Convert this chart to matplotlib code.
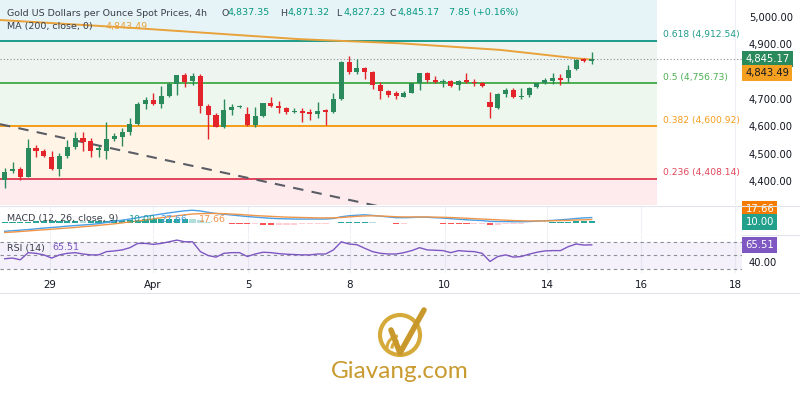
import matplotlib
matplotlib.use("Agg")
import matplotlib.pyplot as plt
from matplotlib.patches import Circle, Arc
import numpy as np

# ---- data (4h bars) ----
opens = [4404, 4437, 4444, 4416, 4522, 4511, 4489, 4444, 4493, 4523,
         4556, 4547, 4514, 4511, 4554, 4562, 4580, 4608, 4681, 4696,
         4681, 4712, 4754, 4786, 4766, 4784, 4675, 4641, 4599, 4660,
         4672, 4645, 4605, 4638, 4684, 4675, 4666, 4653, 4657, 4653,
         4645, 4659, 4653, 4699, 4834, 4797, 4812, 4797, 4750, 4730,
         4720, 4708, 4723, 4757, 4793, 4769, 4762, 4765, 4751, 4769,
         4763, 4759, 4690, 4668, 4717, 4732, 4706, 4714, 4742, 4757,
         4766, 4775, 4775, 4808, 4845, 4837.35]
highs = [4448, 4471, 4450, 4553, 4532, 4516, 4511, 4501, 4550, 4580,
         4580, 4556, 4532, 4617, 4577, 4593, 4629, 4690, 4708, 4723,
         4747, 4763, 4788, 4793, 4796, 4791, 4681, 4650, 4698, 4681,
         4678, 4672, 4672, 4686, 4706, 4693, 4672, 4666, 4666, 4662,
         4690, 4662, 4721, 4840, 4857, 4845, 4818, 4803, 4763, 4733,
         4730, 4730, 4759, 4796, 4799, 4784, 4771, 4769, 4769, 4794,
         4772, 4763, 4726, 4723, 4739, 4741, 4741, 4745, 4759, 4775,
         4794, 4791, 4824, 4845, 4848, 4871.32]
lows = [4375, 4428, 4406, 4414, 4487, 4489, 4440, 4418, 4486, 4519,
        4511, 4489, 4489, 4480, 4546, 4528, 4568, 4605, 4662, 4678,
        4666, 4708, 4714, 4745, 4751, 4650, 4553, 4596, 4593, 4641,
        4668, 4601, 4599, 4633, 4672, 4650, 4645, 4648, 4617, 4623,
        4629, 4605, 4650, 4696, 4791, 4791, 4772, 4735, 4698, 4706,
        4700, 4706, 4720, 4733, 4763, 4757, 4742, 4745, 4733, 4757,
        4747, 4745, 4629, 4662, 4708, 4702, 4699, 4708, 4739, 4754,
        4754, 4751, 4763, 4806, 4836, 4827.23]
closes = [4434, 4446, 4416, 4520, 4511, 4492, 4444, 4493, 4523, 4556,
          4542, 4511, 4520, 4554, 4564, 4580, 4607, 4681, 4696, 4681,
          4712, 4754, 4786, 4763, 4782, 4675, 4641, 4599, 4660, 4670,
          4675, 4605, 4638, 4684, 4675, 4666, 4653, 4657, 4650, 4645,
          4657, 4653, 4699, 4834, 4799, 4812, 4797, 4750, 4730, 4714,
          4712, 4723, 4757, 4793, 4769, 4761, 4765, 4747, 4767, 4761,
          4757, 4747, 4672, 4717, 4732, 4706, 4712, 4739, 4757, 4769,
          4777, 4769, 4806, 4842, 4837.32, 4845.17]

ma_bar = [-0.6, 16.4, 37.7, 50.5, 63.3, 73.1, 75]
ma_val = [4988, 4959, 4918, 4903, 4879, 4848, 4843.49]

trend_bar = [-0.6, 48]
trend_val = [4608, 4307]

fib_ratio = ["0.618", "0.5", "0.382", "0.236"]
fib_price = [4912.54, 4756.73, 4600.92, 4408.14]

macd_line = [-44, -41, -38, -35, -31, -27, -24, -21, -17, -14,
             -11, -8, -4, 2, 8, 14, 20, 27, 34, 40,
             46, 52, 58, 63, 66, 62, 55, 49, 45, 41,
             37, 33, 30, 27, 24, 22, 21, 20, 20, 20,
             20, 20, 23, 32, 37, 40, 42, 39, 35, 31,
             27, 27, 28, 30, 29, 27, 25, 22, 19, 16,
             14, 12, 8, 7, 7, 6, 6, 7, 9, 11,
             13, 16, 19, 23, 26, 27.66]
signal_line = [-50, -48, -45, -42, -39, -36, -33, -30, -27, -24,
               -20, -17, -13, -9, -5, 0, 5, 10, 15, 21,
               27, 32, 37, 42, 46, 48, 49, 49, 48, 46,
               44, 41, 38, 36, 34, 32, 30, 29, 28, 27,
               26, 26, 26, 28, 31, 34, 36, 37, 36, 34,
               32, 31, 31, 31, 31, 30, 29, 28, 26, 24,
               22, 20, 18, 16, 14, 12, 11, 10, 10, 10,
               11, 12, 13, 15, 16, 17.66]

rsi = [45, 46, 43.5, 54, 53, 50.7, 46, 50.7, 53, 54,
       52, 50.7, 50.7, 55.5, 56.5, 58, 61.3, 67.6, 67.6, 66.2,
       67.6, 70, 72.5, 70, 70, 55.5, 49.7, 47.4, 53, 54,
       54, 48.3, 52, 54.6, 54, 52.6, 51.7, 51.2, 50.7, 50.7,
       52, 52, 58, 70, 66.7, 65.7, 60.4, 55.5, 53, 52,
       52, 54, 57, 61.3, 58, 57.5, 57, 54, 57, 56,
       55.5, 53, 41, 48.3, 50.7, 47.4, 48.3, 51.7, 54.6, 56.5,
       57, 57, 62.8, 66.7, 65.2, 65.51]

date_pos = [5.8, 18.9, 31.1, 44.1, 56.2, 69.3, 81.3, 93.3]
date_lab = ["29", "Apr", "5", "8", "10", "14", "16", "18"]
price_ticks = [4400, 4500, 4600, 4700, 4900, 5000]

# ---- styling ----
UP, DOWN = "#2a8a5c", "#e3242b"
TXT = "#131722"
GOLD = "#c99a2e"
FIB_COL = ["#1f9c8a", "#4caf50", "#f59c1a", "#e0455a"]
ZONE_COL = ["#e6f4f7", "#eef5f1", "#eef7ee", "#fff4e6", "#fdebed"]

W, H = 800, 400
fig = plt.figure(figsize=(8, 4), dpi=100)
fig.patch.set_facecolor("white")
fx = lambda px: px / W
fy = lambda py: 1 - py / H

XL = (-0.6, 94.2)
fib_end = 83.3

ax = fig.add_axes([0, fy(205), fx(742), 205 / H], zorder=3)
axm = fig.add_axes([0, fy(234), fx(742), 28 / H], zorder=1)
axr = fig.add_axes([0, fy(273), fx(742), 38 / H], zorder=2)

idx = np.arange(len(closes))
o = np.array(opens); c = np.array(closes)
hi = np.array(highs); lo = np.array(lows)
cols = [UP if cc >= oo else DOWN for oo, cc in zip(o, c)]

for a in (ax, axm, axr):
    a.set_xlim(*XL)
    for s in a.spines.values():
        s.set_visible(False)
    for d in date_pos:
        a.axvline(d, color="#eef0f5", lw=0.8, zorder=0)

# main pane
ylo, yhi = 4313, 5061
ax.set_ylim(ylo, yhi)
bounds = [yhi] + fib_price + [ylo]
for k in range(5):
    ax.fill_between([XL[0], fib_end], bounds[k + 1], bounds[k], color=ZONE_COL[k], lw=0, zorder=0.5)
for r, p, col in zip(fib_ratio, fib_price, FIB_COL):
    ax.hlines(p, XL[0], fib_end, color=col, lw=1.4, zorder=1)
    ax.text(fib_end + 0.8, p + 22, f"{r} ({p:,.2f})", color=col, fontsize=6.6, va="center", ha="left")

ax.plot(trend_bar, trend_val, color="#5a5d66", lw=1.5, ls=(0, (5, 4)), zorder=1.5)
ax.plot(ma_bar, ma_val, color="#e9a23b", lw=1.4, zorder=2)
ax.axhline(closes[-1], color="#8a8e99", lw=0.8, ls=(0, (1, 2)), zorder=1.5)

ax.vlines(idx, lo, hi, color=cols, lw=1, zorder=3)
ax.bar(idx, np.maximum(np.abs(c - o), 1.5), bottom=np.minimum(o, c), width=0.65, color=cols, zorder=4)

ax.yaxis.tick_right()
ax.set_yticks(price_ticks)
ax.set_yticklabels([f"{p:,.2f}" for p in price_ticks])
ax.tick_params(axis="y", length=0, pad=5, labelsize=7.2, labelcolor=TXT)
ax.set_xticks([])

ax.annotate(f"{closes[-1]:,.2f}", xy=(1, closes[-1]), xycoords=("axes fraction", "data"),
            xytext=(2.5, 0), textcoords="offset points", ha="left", va="center",
            color="white", fontsize=7.2, annotation_clip=False,
            bbox=dict(boxstyle="square,pad=0.3", fc=UP, ec="none"))
ax.annotate(f"{ma_val[-1]:,.2f}", xy=(1, ma_val[-1]), xycoords=("axes fraction", "data"),
            xytext=(2.5, -9.5), textcoords="offset points", ha="left", va="center",
            color=TXT, fontsize=7.2, annotation_clip=False,
            bbox=dict(boxstyle="square,pad=0.3", fc="#f5a020", ec="none"))

# MACD pane
axm.set_ylim(-58, 88)
hist = np.array(macd_line) - np.array(signal_line)
hcol = []
for k, h in enumerate(hist):
    prev = hist[k - 1] if k else h
    if h >= 0:
        hcol.append("#26a69a" if h >= prev else "#b2dfdb")
    else:
        hcol.append("#ffcdd2" if h >= prev else "#ff5252")
axm.bar(idx, hist, width=0.8, color=hcol, zorder=2)
axm.plot(idx, macd_line, color="#4a9fe6", lw=1, zorder=3)
axm.plot(idx, signal_line, color="#f0964a", lw=1, zorder=3)
axm.set_xticks([]); axm.set_yticks([])
axm.annotate(f"{signal_line[-1]:.2f}", xy=(1, 0.88), xycoords="axes fraction",
             xytext=(2.5, 0), textcoords="offset points", ha="left", va="center",
             color="white", fontsize=7.2, annotation_clip=False,
             bbox=dict(boxstyle="square,pad=0.3", fc="#f57c00", ec="none"))
axm.annotate(f"{hist[-1]:.2f}", xy=(1, 0.44), xycoords="axes fraction",
             xytext=(2.5, 0), textcoords="offset points", ha="left", va="center",
             color="white", fontsize=7.2, annotation_clip=False,
             bbox=dict(boxstyle="square,pad=0.3", fc="#22a08c", ec="none"))

# RSI pane
axr.set_ylim(24, 80)
axr.fill_between(XL, 30, 70, color="#7e57c2", alpha=0.08, lw=0, zorder=0.5)
for lv in (70, 50, 30):
    axr.axhline(lv, color="#8a8e99", lw=0.8, ls=(0, (3, 3)), zorder=1)
axr.plot(idx, rsi, color="#7e57c2", lw=1, zorder=3)
axr.yaxis.tick_right()
axr.set_yticks([40])
axr.set_yticklabels(["40.00"])
axr.tick_params(axis="y", length=0, pad=5, labelsize=7.2, labelcolor=TXT)
axr.set_xticks(date_pos)
axr.set_xticklabels(date_lab)
axr.tick_params(axis="x", length=0, pad=5, labelsize=7.4, labelcolor=TXT)
axr.annotate(f"{rsi[-1]:.2f}", xy=(1, rsi[-1]), xycoords=("axes fraction", "data"),
             xytext=(2.5, 0), textcoords="offset points", ha="left", va="center",
             color="white", fontsize=7.2, annotation_clip=False,
             bbox=dict(boxstyle="square,pad=0.3", fc="#7e57c2", ec="none"))

# pane separators
for py in (205.5, 234.5, 293):
    fig.add_artist(plt.Line2D([0, 1], [fy(py), fy(py)], color="#e3e5ec", lw=0.8))

# legend texts
def put(px, py, s, col, size=6.8):
    fig.text(fx(px), fy(py), s, color=col, fontsize=size, ha="left", va="center", zorder=10)

G = "#089981"
put(7, 13, "Gold US Dollars per Ounce Spot Prices, 4h", "#3a3e48")
put(221, 13, "O", "#3a3e48"); put(228, 13, f"{opens[-1]:,.2f}", G)
put(280, 13, "H", "#3a3e48"); put(288, 13, f"{highs[-1]:,.2f}", G)
put(336, 13, "L", "#3a3e48"); put(343, 13, f"{lows[-1]:,.2f}", G)
put(390, 13, "C", "#3a3e48"); put(398, 13, f"{closes[-1]:,.2f}", G)
put(449, 13, f"{closes[-1] - closes[-2]:.2f} (+0.16%)", G)
put(7, 27, "MA (200, close, 0)", "#3a3e48")
put(105, 27, f"{ma_val[-1]:,.2f}", "#e9a23b")
put(7, 219, "MACD (12, 26, close, 9)", "#3a3e48")
put(129, 219, f"{hist[-1]:.2f}", "#22a08c")
put(160, 219, f"{macd_line[-1]:.2f}", "#4a9fe6")
put(199, 219, f"{signal_line[-1]:.2f}", "#f0964a")
put(7, 248, "RSI (14)", "#3a3e48")
put(52, 248, f"{rsi[-1]:.2f}", "#7e57c2")

# logo
lax = fig.add_axes([fx(300), 0, fx(200), 110 / H], zorder=5)
lax.set_xlim(300, 500); lax.set_ylim(0, 110); lax.axis("off")
lax.add_patch(Circle((400, 65), 20, fill=False, ec="#d6aa3a", lw=3))
lax.add_patch(Arc((399, 52), 14, 14, theta1=95, theta2=185, color="#d6aa3a", lw=2.2))
lax.add_patch(Arc((399, 52), 24, 24, theta1=95, theta2=185, color="#d6aa3a", lw=2.2))
lax.plot([391, 400, 424], [70, 47, 90], color="#c9982c", lw=4, solid_capstyle="round", solid_joinstyle="round")
lax.text(400, 28, "Giavang.com", color=GOLD, fontsize=17.5, ha="center", va="center", family="Lato")

fig.savefig("out.png", dpi=100, facecolor="white")
